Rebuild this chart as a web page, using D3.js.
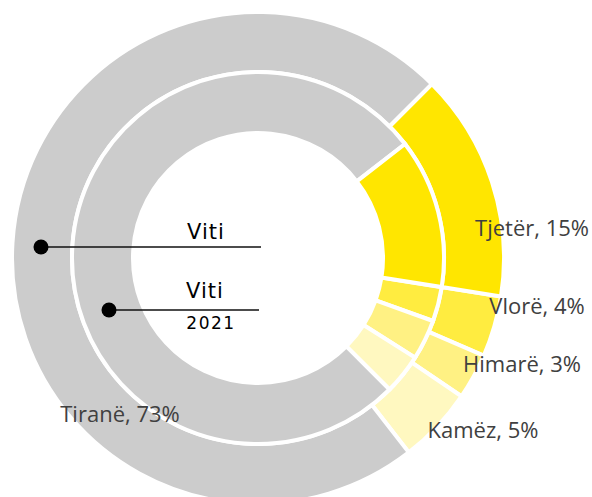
<!DOCTYPE html>
<html>
<head>
<meta charset="utf-8">
<script src="https://cdn.jsdelivr.net/npm/d3@7"></script>
<style>
  body { margin: 0; background: #fff; }
  svg { display: block; }
</style>
</head>
<body>
<div id="chart"></div>
<script>
var width = 592, height = 497;

// data, ordered clockwise from the first slice
var categories = ['Vlorë', 'Himarë', 'Kamëz', 'Tiranë', 'Tjetër'];
var outerValues = [4, 3, 5, 73, 15];        // outer ring (labelled)
var innerValues = [3, 3.5, 3.5, 77, 13];    // inner ring, Viti 2021
var colors = ['#FFEC40', '#FFF183', '#FFF8C0', '#CCCCCC', '#FFE600'];

// where the data labels sit (excel style, outside the ring)
var labelPos = {
  'Tjetër': [532, 236],
  'Vlorë': [537, 314],
  'Himarë': [522, 372],
  'Kamëz': [483, 438],
  'Tiranë': [120, 422]
};

var cx = 258, cy = 258;
var start = 99 * Math.PI / 180;

var svg = d3.select('#chart').append('svg')
  .attr('width', width)
  .attr('height', height);

var g = svg.append('g')
  .attr('transform', 'translate(' + cx + ',' + cy + ')');

var pie = d3.pie().sort(null)
  .startAngle(start)
  .endAngle(start + 2 * Math.PI);

var color = d3.scaleOrdinal().domain(categories).range(colors);

var outerArc = d3.arc().innerRadius(186).outerRadius(246);
var innerArc = d3.arc().innerRadius(125).outerRadius(186);

function ring(values, arc, cls) {
  g.append('g').attr('class', cls)
    .selectAll('path')
    .data(pie(values))
    .enter().append('path')
    .attr('d', arc)
    .attr('fill', function(d, i) { return color(categories[i]); })
    .attr('stroke', '#fff')
    .attr('stroke-width', 4);
}

ring(outerValues, outerArc, 'outer');
ring(innerValues, innerArc, 'inner');

// data labels for outer ring
svg.append('g').selectAll('text')
  .data(categories)
  .enter().append('text')
  .attr('x', function(d) { return labelPos[d][0]; })
  .attr('y', function(d) { return labelPos[d][1]; })
  .attr('text-anchor', 'middle')
  .attr('font-family', 'Open Sans, sans-serif')
  .attr('font-size', 22)
  .attr('fill', '#404040')
  .text(function(d, i) { return d + ', ' + outerValues[i] + '%'; });

// callouts
var callouts = [
  {x1: 41, y: 247, x2: 261, label: 'Viti', ly: 239, lx: 206},
  {x1: 109, y: 310, x2: 259, label: 'Viti', ly: 298, lx: 205}
];

var c = svg.append('g');
callouts.forEach(function(d) {
  c.append('line')
    .attr('x1', d.x1).attr('x2', d.x2)
    .attr('y1', d.y).attr('y2', d.y)
    .attr('stroke', '#111').attr('stroke-width', 1.6);
  c.append('circle')
    .attr('cx', d.x1).attr('cy', d.y).attr('r', 7.5)
    .attr('fill', '#000');
  c.append('text')
    .attr('x', d.lx).attr('y', d.ly)
    .attr('text-anchor', 'middle')
    .attr('font-family', 'DejaVu Sans, sans-serif')
    .attr('font-size', 21)
    .attr('letter-spacing', 1)
    .attr('fill', '#000')
    .text(d.label);
});

c.append('text')
  .attr('x', 211).attr('y', 329)
  .attr('text-anchor', 'middle')
  .attr('font-family', 'DejaVu Sans, sans-serif')
  .attr('font-size', 17)
  .attr('letter-spacing', 1.5)
  .attr('fill', '#000')
  .text('2021');
</script>
</body>
</html>
